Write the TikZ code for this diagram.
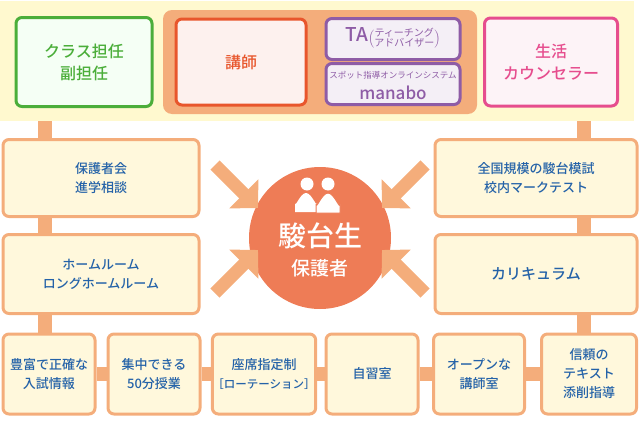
\documentclass[tikz,border=0pt]{standalone}
\usepackage{fontspec}
\setmainfont{Noto Sans CJK JP}[BoldFont={Noto Sans CJK JP Medium}]
\usetikzlibrary{arrows.meta,backgrounds}
\definecolor{bar}{HTML}{F4AD7B}
\definecolor{band}{HTML}{FFF9CF}
\definecolor{boxfill}{HTML}{FFF8DC}
\definecolor{txtblue}{HTML}{2462A8}
\definecolor{grn}{HTML}{4BAE3A}
\definecolor{rd}{HTML}{E8562C}
\definecolor{prp}{HTML}{8E5CA6}
\definecolor{pnk}{HTML}{E64D8E}
\definecolor{coral}{HTML}{EE7C56}
\tikzset{
  box/.style={draw=bar, line width=3pt, fill=boxfill, rounded corners=6pt,
    text=txtblue, align=center, font=\bfseries\fontsize{13}{19}\selectfont, inner sep=0pt},
  topbox/.style={line width=3pt, rounded corners=6pt, align=center, inner sep=0pt},
  bar/.style={draw=bar, line width=14pt},
  inarrow/.style={draw=bar, line width=13pt, -{Triangle[length=20pt,width=40pt]}}
}
\begin{document}
\begin{tikzpicture}[x=1pt,y=-1pt]
\useasboundingbox (0,0) rectangle (640,423);
% top band
\node (band) [fill=band, minimum width=634pt, minimum height=120pt, inner sep=0pt] at (317,61) {};
% staff
\node (tanin) [topbox, draw=grn, fill=green!4, text=grn, minimum width=136pt, minimum height=89pt,
  font=\bfseries\fontsize{16}{22}\selectfont] at (84,62) {クラス担任\\副担任};
\node (group) [fill=bar, rounded corners=9pt, minimum width=314pt, minimum height=104pt, inner sep=0pt] at (320,62) {};
\node (koshi) [topbox, draw=rd, fill=rd!8, text=rd, minimum width=130pt, minimum height=86pt,
  font=\bfseries\fontsize{16}{22}\selectfont] at (241,62) {講師};
\node (ta) [topbox, draw=prp, fill=prp!10, text=prp, minimum width=134pt, minimum height=41pt] at (393,39)
  {{\bfseries\fontsize{19}{20}\selectfont TA}$\Bigl(\begin{tabular}{@{}c@{}}\fontsize{10}{11}\selectfont ティーチング\\[-2pt]\fontsize{10}{11}\selectfont アドバイザー\end{tabular}\Bigr)$};
\node (manabo) [topbox, draw=prp, fill=prp!10, text=prp, minimum width=134pt, minimum height=41pt] at (393,84) {};
\node (manabotop) [text=prp, font=\fontsize{8.5}{10}\selectfont] at (393,75) {スポット指導オンラインシステム};
\node (manaboname) [text=prp, font=\bfseries\fontsize{17}{19}\selectfont] at (393,93) {manabo};
\node (counsel) [topbox, draw=pnk, fill=pnk!7, text=pnk, minimum width=133pt, minimum height=88pt,
  font=\bfseries\fontsize{16}{22}\selectfont] at (551,62) {生活\\カウンセラー};
% left and right columns
\node (hogo) [box, minimum width=196pt, minimum height=77pt] at (101,178) {保護者会\\進学相談};
\node (home) [box, minimum width=196pt, minimum height=79pt] at (101,274) {ホームルーム\\ロングホームルーム};
\node (moshi) [box, minimum width=202pt, minimum height=77pt] at (536,178) {全国規模の駿台模試\\校内マークテスト};
\node (curri) [box, minimum width=202pt, minimum height=79pt, font=\bfseries\fontsize{15}{17}\selectfont] at (536,274) {カリキュラム};
% bottom row
\node (b1) [box, minimum width=92pt, minimum height=80pt] at (49,374) {豊富で正確な\\入試情報};
\node (b2) [box, minimum width=92pt, minimum height=80pt] at (154,374) {集中できる\\50分授業};
\node (b3) [box, minimum width=92pt, minimum height=80pt] at (264,374) {座席指定制\\{\fontsize{11.5}{14}\selectfont［ローテーション］}};
\node (b4) [box, minimum width=92pt, minimum height=80pt] at (372,374) {自習室};
\node (b5) [box, minimum width=91pt, minimum height=80pt] at (479,374) {オープンな\\講師室};
\node (b6) [box, minimum width=95pt, minimum height=80pt] at (589,374) {信頼の\\テキスト\\添削指導};
% connectors
\begin{scope}[on background layer]
  \fill[band] (band.north west) rectangle (band.south east);
  \draw[bar] (tanin.east) -- (group.west);
  \draw[bar] (group.east) -- (counsel.west);
  \draw[bar] (tanin.south -| 45,0) -- (b1.north -| 45,0);
  \draw[bar] (counsel.south -| 584,0) -- (b6.north -| 584,0);
  \foreach \a/\b in {b1/b2,b2/b3,b3/b4,b4/b5,b5/b6}
    \draw[bar] (\a.east) -- (\b.west);
\end{scope}
% center
\node (center) [circle, fill=coral, minimum size=142pt, inner sep=0pt] at (320,238) {};
\node (name) [text=white, font=\bfseries\fontsize{28}{30}\selectfont] at (320,236) {駿台生};
\node (sub) [text=white, font=\bfseries\fontsize{19}{20}\selectfont] at (320,268) {保護者};
\fill[white] (307,184) circle (6.5pt) (328,184) circle (6.5pt);
\fill[white] (295,212) -- (295,203) to[out=-90,in=180] (306,193) to[out=0,in=-90] (317,203) -- (317,212) -- cycle;
\fill[white, draw=coral, line width=1pt] (316,213) -- (316,204) to[out=-90,in=180] (328,193) to[out=0,in=-90] (340,204) -- (340,213) -- cycle;
% arrows
\coordinate (tl) at (215,165); \coordinate (tr) at (425,165);
\coordinate (bl) at (215,293); \coordinate (br) at (425,293);
\draw[inarrow] (tl) -- (258,208);
\draw[inarrow] (tr) -- (382,208);
\draw[inarrow] (bl) -- (258,250);
\draw[inarrow] (br) -- (382,250);
\end{tikzpicture}
\end{document}
